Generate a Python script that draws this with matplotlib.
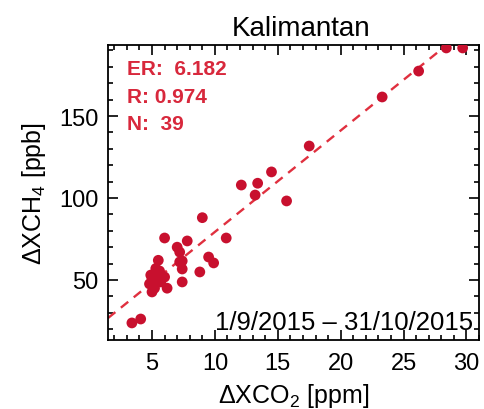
import matplotlib
matplotlib.use("Agg")
import matplotlib.pyplot as plt
from matplotlib.ticker import MultipleLocator
import numpy as np

plt.rcParams['font.family'] = ['Liberation Sans', 'DejaVu Sans']
plt.rcParams['mathtext.fontset'] = 'custom'
plt.rcParams['mathtext.rm'] = 'Liberation Sans'
plt.rcParams['mathtext.it'] = 'Liberation Sans:italic'

# Data
dxco2 = [28.4, 29.7, 26.2, 23.3, 17.5, 15.7, 14.5, 12.1, 13.4, 13.2,
         9.0, 10.9, 6.0, 7.8, 7.0, 7.2, 9.5, 9.9, 5.5, 7.4,
         7.4, 8.8, 7.4, 5.2, 5.6, 5.0, 6.0, 4.8, 5.2, 6.2,
         5.0, 5.7, 3.4, 4.1, 5.3, 4.9, 5.8, 7.2, 5.1]
dxch4 = [191.5, 191.5, 177.4, 161.6, 131.7, 98.2, 115.9, 107.9, 109.0, 101.8,
         88.0, 75.6, 75.6, 73.8, 70.0, 67.0, 64.0, 60.4, 62.0, 61.6,
         56.7, 54.9, 48.8, 53.7, 55.5, 50.6, 51.8, 47.6, 45.0, 45.0,
         42.7, 48.8, 23.8, 26.2, 57.0, 53.0, 52.5, 61.0, 49.0]
er = 6.182
intercept = 17.5
r_val = 0.974
n_pts = 39
title = "Kalimantan"
period = "1/9/2015 \u2013 31/10/2015"

red = '#c8102e'
txtred = '#d8283c'

fig = plt.figure(figsize=(4.85, 4.10), dpi=100)
ax = fig.add_axes([108/485, 1-341/410, (479-108)/485, (341-46)/410])

ax.scatter(dxco2, dxch4, s=60, color=red, edgecolors='none', zorder=3, clip_on=True)
xl = np.array([1.5, 31.0])
ax.plot(xl, er*xl + intercept, color='#e0303f', lw=1.7, ls=(0, (4, 3)), zorder=2)

ax.set_xlim(1.5, 31.0)
ax.set_ylim(13.4, 193.3)
ax.xaxis.set_major_locator(MultipleLocator(5))
ax.xaxis.set_minor_locator(MultipleLocator(1))
ax.yaxis.set_major_locator(MultipleLocator(50))
ax.yaxis.set_minor_locator(MultipleLocator(10))
ax.tick_params(which='both', direction='in', top=True, right=True, width=1.2)
ax.tick_params(which='major', length=7, labelsize=17)
ax.tick_params(axis='x', which='major', pad=9)
ax.tick_params(axis='y', which='major', pad=7)
ax.tick_params(which='minor', length=3.5)
for s in ax.spines.values():
    s.set_linewidth(1.3)

ax.set_xlabel(r'$\Delta$XCO$_2$ [ppm]', fontsize=18, labelpad=5)
ax.set_ylabel(r'$\Delta$XCH$_4$ [ppb]', fontsize=18, labelpad=8)
ax.set_title(title, fontsize=20, pad=7, x=0.52)

stat_kw = dict(transform=ax.transAxes, color=txtred, fontsize=15,
               fontweight='bold', va='center')
ax.text(0.052, 0.92, f"ER:  {er:.3f}", **stat_kw)
ax.text(0.052, 0.827, f"R: {r_val:.3f}", **stat_kw)
ax.text(0.052, 0.735, f"N:  {n_pts}", **stat_kw)
ax.text(0.985, 0.062, period, transform=ax.transAxes, ha='right', va='center',
        fontsize=18.5)

fig.savefig('out.png', dpi=100)
